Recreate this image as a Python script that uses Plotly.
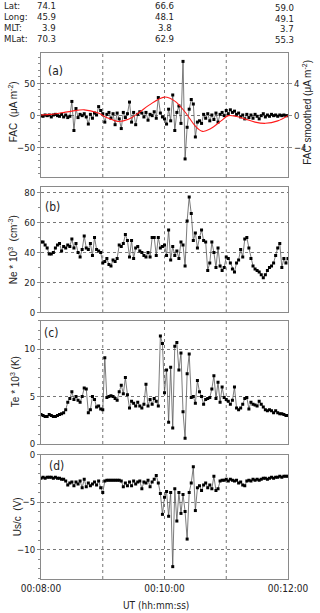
import plotly.graph_objects as go

# ---------------- data ----------------
time_s = list(range(0, 241, 2))  # seconds after 00:08:00

fac = [0, -1, 1, 0, 1, -2, 1, 2, 0, -1, 2, -2, 1, -3, -1, 22, -23, 11, -3, 2,
       0, 3, -2, -13, 2, -4, 4, 1, 14, 8, 3, -10, 2, 5, -4, 3, -14, 4, -5, -20,
       5, -3, 3, 21, -10, 5, -14, 2, 6, 4, -2, 5, -7, 2, 0, 6, -4, 28, 4, -2,
       -5, -13, 10, -8, 32, -23, 5, 15, -12, 84, -67, -18, 10, 25, 18, -33, -10, -8, -12, 2,
       -4, 3, -8, 1, -6, 4, -10, 2, 5, 0, 8, 3, 9, 5, 7, 2, 4, -2, 1, -5,
       2, -3, 1, -4, 2, -1, -5, 0, 3, -2, 1, -1, 2, 0, 1, -1, 1, 0, 1, 0, 0]

smooth_t = [0, 10, 20, 30, 42, 55, 65, 75, 85, 95, 105, 120, 130, 140, 150, 157, 165, 175, 182, 190, 198, 208, 218, 230, 240]
fac_smooth = [0.08, 0.16, 0.35, 0.56, 0.72, 0.35, -0.3, -0.72, -0.45, 0.35, 1.3, 2.3, 1.8, 0.45, -1.3, -1.95, -1.6, -0.65, 0.0, -0.1, -0.4, -0.8, -0.95, -0.65, 0.0]

ne = [47, 47, 45, 43, 39, 39, 40, 43, 45, 46, 41, 44, 43, 45, 44, 49, 43, 46, 40, 37,
      42, 51, 43, 42, 46, 38, 50, 42, 41, 40, 33, 34, 36, 32, 31, 35, 34, 36, 45, 44,
      46, 52, 48, 37, 48, 36, 43, 44, 41, 40, 38, 37, 40, 37, 50, 50, 38, 50, 43, 44,
      45, 38, 55, 35, 44, 38, 41, 36, 47, 45, 31, 61, 77, 66, 48, 53, 43, 50, 55, 48,
      47, 28, 33, 47, 40, 30, 43, 31, 28, 30, 37, 36, 33, 29, 27, 33, 35, 42, 37, 49,
      50, 43, 36, 31, 29, 28, 27, 25, 23, 25, 28, 30, 31, 33, 38, 43, 46, 30, 36, 33, 36]

te = [3.1, 3.0, 2.9, 2.9, 3.1, 3.0, 2.9, 2.9, 3.0, 3.1, 3.2, 3.3, 3.6, 4.4, 4.8, 5.5, 4.7, 5.0, 4.6, 4.4,
      5.0, 5.9, 5.8, 3.3, 3.6, 5.0, 4.7, 3.9, 4.0, 3.7, 3.6, 9.1, 4.9, 5.0, 5.1, 5.0, 4.8, 4.6, 5.5, 6.2,
      5.3, 7.0, 5.2, 3.8, 4.5, 4.3, 4.0, 4.4, 4.0, 3.8, 4.2, 6.3, 4.0, 4.7, 4.2, 4.8, 4.5, 4.0, 11.4, 10.6,
      5.4, 7.8, 2.3, 8.1, 1.7, 10.3, 10.7, 7.8, 9.6, 3.4, 0.6, 7.4, 9.5, 4.9, 5.0, 4.3, 6.7, 5.5, 5.0, 4.2,
      4.7, 4.8, 4.9, 5.8, 7.2, 4.8, 6.5, 4.4, 6.0, 4.9, 4.7, 4.5, 4.2, 4.6, 6.0, 3.8, 3.6, 3.8, 4.2, 4.8,
      4.9, 3.7, 4.4, 4.2, 4.1, 4.0, 4.5, 4.2, 3.9, 3.6, 3.5, 3.6, 3.5, 3.3, 3.5, 3.3, 3.2, 3.2, 3.1, 3.0, 3.0]

usc = [-2.5, -2.4, -2.5, -2.4, -2.4, -2.4, -2.5, -2.4, -2.5, -2.5, -2.6, -2.6, -2.8, -3.2, -3.0, -2.9, -3.3, -2.9, -3.1, -2.8,
       -3.5, -2.6, -3.4, -3.0, -3.3, -3.1, -2.9, -3.2, -2.8, -3.5, -4.0, -2.8, -2.7, -2.7, -2.7, -2.7, -2.7, -2.7, -2.7, -2.8,
       -3.4, -3.0, -3.3, -2.9, -3.3, -2.8, -3.1, -2.9, -2.8, -3.6, -2.9, -3.0, -2.7, -3.4, -2.9, -2.6, -2.2, -3.0, -4.1, -6.3,
       -4.5, -3.9, -6.5, -4.0, -11.8, -3.6, -7.0, -4.0, -6.2, -4.2, -6.0, -8.9, -4.0, -3.0, -1.3, -5.9, -3.5, -3.3, -3.8, -3.2,
       -3.0, -3.5, -3.2, -3.6, -2.3, -3.8, -3.6, -2.8, -2.7, -2.7, -2.6, -2.8, -2.6, -2.7, -2.8, -2.7, -3.0, -2.9, -3.2, -3.3,
       -2.8, -2.7, -2.8, -2.6, -2.7, -2.6, -2.7, -2.6, -2.5, -2.5, -2.6, -2.5, -2.4, -2.5, -2.4, -2.4, -2.3, -2.4, -2.3, -2.3, -2.3]

x_tick_vals = [0, 120, 240]
x_tick_text = ["00:08:00", "00:10:00", "00:12:00"]
x_grid_vals = [60, 120, 180]

orbit_t = [0, 120, 240]
orbit_rows = ["Lat:", "Long:", "MLT:", "MLat:"]
orbit_vals = [["74.1", "66.6", "59.0"],
              ["45.9", "48.1", "49.1"],
              ["3.9", "3.8", "3.7"],
              ["70.3", "62.9", "55.3"]]

# ---------------- layout constants ----------------
W, H = 320, 613
ML, MR, MT, MB = 41, 30, 53, 34
PW = W - ML - MR
PH = H - MT - MB
FONT = "Arial, Liberation Sans, sans-serif"
NARROW = "Liberation Sans Narrow, Arial Narrow, DejaVu Sans Condensed, sans-serif"
TXT = "#222222"
GRID = "#777777"
FRAME = "#8a8a8a"
DASH = "dot"


def px_x(p):
    return (p - ML) / PW


def px_y(p):
    return (H - MB - p) / PH


def dom(bottom_px, top_px):
    return [max(0.0, min(1.0, px_y(bottom_px))), max(0.0, min(1.0, px_y(top_px)))]


fig = go.Figure()

pt_style = dict(mode="lines+markers",
                line=dict(color="#5a5a5a", width=0.8),
                marker=dict(symbol="square", size=3, color="black"),
                showlegend=False, hoverinfo="skip")

fig.add_trace(go.Scatter(x=time_s, y=fac, xaxis="x", yaxis="y", **pt_style))
fig.add_trace(go.Scatter(x=smooth_t, y=fac_smooth, xaxis="x", yaxis="y5", mode="lines",
                         line=dict(color="#ff1a1a", width=1.1, shape="spline", smoothing=1.0),
                         showlegend=False, hoverinfo="skip"))
fig.add_trace(go.Scatter(x=time_s, y=ne, xaxis="x2", yaxis="y2", **pt_style))
fig.add_trace(go.Scatter(x=time_s, y=te, xaxis="x3", yaxis="y3", **pt_style))
fig.add_trace(go.Scatter(x=time_s, y=usc, xaxis="x4", yaxis="y4", **pt_style))

# orbit markers (triangles)
fig.add_trace(go.Scatter(x=orbit_t, y=[99, 99, 99], xaxis="x", yaxis="y", mode="markers",
                         marker=dict(symbol="triangle-down", size=8, color="black"),
                         cliponaxis=False, showlegend=False, hoverinfo="skip"))

domains = {
    1: dom(177, 53),
    2: dom(312.3, 187.3),
    3: dom(444, 320.7),
    4: dom(579, 454.5),
}

tickfont = dict(size=9.5, family=NARROW, color=TXT)

xcommon = dict(range=[0, 240], tickmode="array", tickvals=x_tick_vals, ticktext=x_tick_text,
               showgrid=False,
               showline=True, linecolor=FRAME, linewidth=1, mirror=True,
               ticks="",
               zeroline=False, tickfont=dict(size=10, family=NARROW, color=TXT))

ycommon = dict(showgrid=True, gridcolor=GRID, griddash=DASH, gridwidth=1,
               showline=True, linecolor=FRAME, linewidth=1, mirror=True,
               ticks="outside", ticklen=3, tickcolor=FRAME, zeroline=False,
               tickfont=tickfont)

for i in range(1, 5):
    xa = dict(xcommon)
    xa["domain"] = [0, 1]
    xa["anchor"] = "y" if i == 1 else f"y{i}"
    xa["showticklabels"] = (i == 4)
    if i > 1:
        xa["matches"] = "x"
    fig.update_layout(**{("xaxis" if i == 1 else f"xaxis{i}"): xa})

fig.update_layout(
    yaxis=dict(ycommon, domain=domains[1], anchor="x", range=[-95, 97], tickvals=[-50, 0, 50],
               minor=dict(ticks="outside", ticklen=2, dtick=10, tickcolor=FRAME, showgrid=False)),
    yaxis5=dict(domain=domains[1], anchor="x", overlaying="y", side="right",
                range=[-95 / 12.5, 97 / 12.5], tickvals=[-4, 0, 4], showgrid=False, zeroline=False,
                ticks="outside", ticklen=3, tickcolor=FRAME, showline=False,
                tickfont=tickfont),
    yaxis2=dict(ycommon, domain=domains[2], anchor="x2", range=[0, 83.5], tickvals=[0, 20, 40, 60, 80],
                minor=dict(ticks="outside", ticklen=2, dtick=10, tickcolor=FRAME, showgrid=False)),
    yaxis3=dict(ycommon, domain=domains[3], anchor="x3", range=[0, 13], tickvals=[0, 5, 10],
                minor=dict(ticks="outside", ticklen=2, dtick=1, tickcolor=FRAME, showgrid=False)),
    yaxis4=dict(ycommon, domain=domains[4], anchor="x4", range=[-13.1, 0], tickvals=[-10, -5, 0],
                minor=dict(ticks="outside", ticklen=2, dtick=1, tickcolor=FRAME, showgrid=False)),
)

# vertical dashed grid lines at every minute, per panel
shapes = []
for i in range(1, 5):
    xr = "x" if i == 1 else f"x{i}"
    yr = "y domain" if i == 1 else f"y{i} domain"
    for gx in x_grid_vals:
        shapes.append(dict(type="line", xref=xr, yref=yr, x0=gx, x1=gx, y0=0, y1=1,
                           line=dict(color=GRID, width=1, dash=DASH), layer="below"))

ann = []
# y-axis titles
ytitles = [("FAC  (μA m<sup>-2</sup>)", 13, 112),
           ("Ne * 10<sup>3</sup>  (cm<sup>-3</sup>)", 13, 250),
           ("Te * 10<sup>3</sup> (K)", 15, 382),
           ("Us/c  (V)", 17, 517)]
for txt, xp, yp in ytitles:
    ann.append(dict(text=txt, xref="paper", yref="paper", x=px_x(xp), y=px_y(yp),
                    textangle=-90, showarrow=False, font=dict(size=10, family=FONT, color=TXT),
                    xanchor="center", yanchor="middle"))
ann.append(dict(text="FAC smoothed (μA m<sup>-2</sup>)", xref="paper", yref="paper", x=px_x(309), y=px_y(112),
                textangle=-90, showarrow=False, font=dict(size=10, family=FONT, color=TXT),
                xanchor="center", yanchor="middle"))
# panel letters
for lab, xp, yp in [("(a)", 56, 71), ("(b)", 53, 207), ("(c)", 51, 333), ("(d)", 57, 466)]:
    ann.append(dict(text=lab, xref="paper", yref="paper", x=px_x(xp), y=px_y(yp), showarrow=False,
                    font=dict(size=12, family=NARROW, color=TXT), xanchor="center", yanchor="middle"))
# x title
ann.append(dict(text="UT (hh:mm:ss)", xref="paper", yref="paper", x=px_x(157), y=px_y(605),
                showarrow=False, font=dict(size=10, family=NARROW, color=TXT),
                xanchor="center", yanchor="middle"))
# orbit header
hfont = dict(size=9.5, family=NARROW, color=TXT)
row_y = [5.8, 16.7, 27.4, 38.3]
for r, name in enumerate(orbit_rows):
    ann.append(dict(text=name, xref="paper", yref="paper", x=px_x(1.5), y=px_y(row_y[r]), showarrow=False,
                    font=hfont, xanchor="left", yanchor="middle"))
    vals = orbit_vals[r]
    ann.append(dict(text=vals[0], xref="paper", yref="paper", x=px_x(58.5), y=px_y(row_y[r]), showarrow=False,
                    font=hfont, xanchor="right", yanchor="middle"))
    ann.append(dict(text=vals[1], x=orbit_t[1], xref="x", yref="paper", y=px_y(row_y[r]), showarrow=False,
                    font=hfont, xanchor="center", yanchor="middle"))
    ann.append(dict(text=vals[2], xref="paper", yref="paper", x=px_x(298.5), y=px_y(row_y[r] + 1.5),
                    showarrow=False, font=hfont, xanchor="right", yanchor="middle"))

fig.update_layout(
    width=W, height=H,
    margin=dict(l=ML, r=MR, t=MT, b=MB, pad=0),
    paper_bgcolor="white", plot_bgcolor="white",
    font=dict(family=FONT, size=10, color=TXT),
    annotations=ann,
    shapes=shapes,
    showlegend=False,
)

fig.write_html("out.html", config={"displayModeBar": False},
               post_script="document.body.style.margin='0';document.body.style.overflow='hidden';")
